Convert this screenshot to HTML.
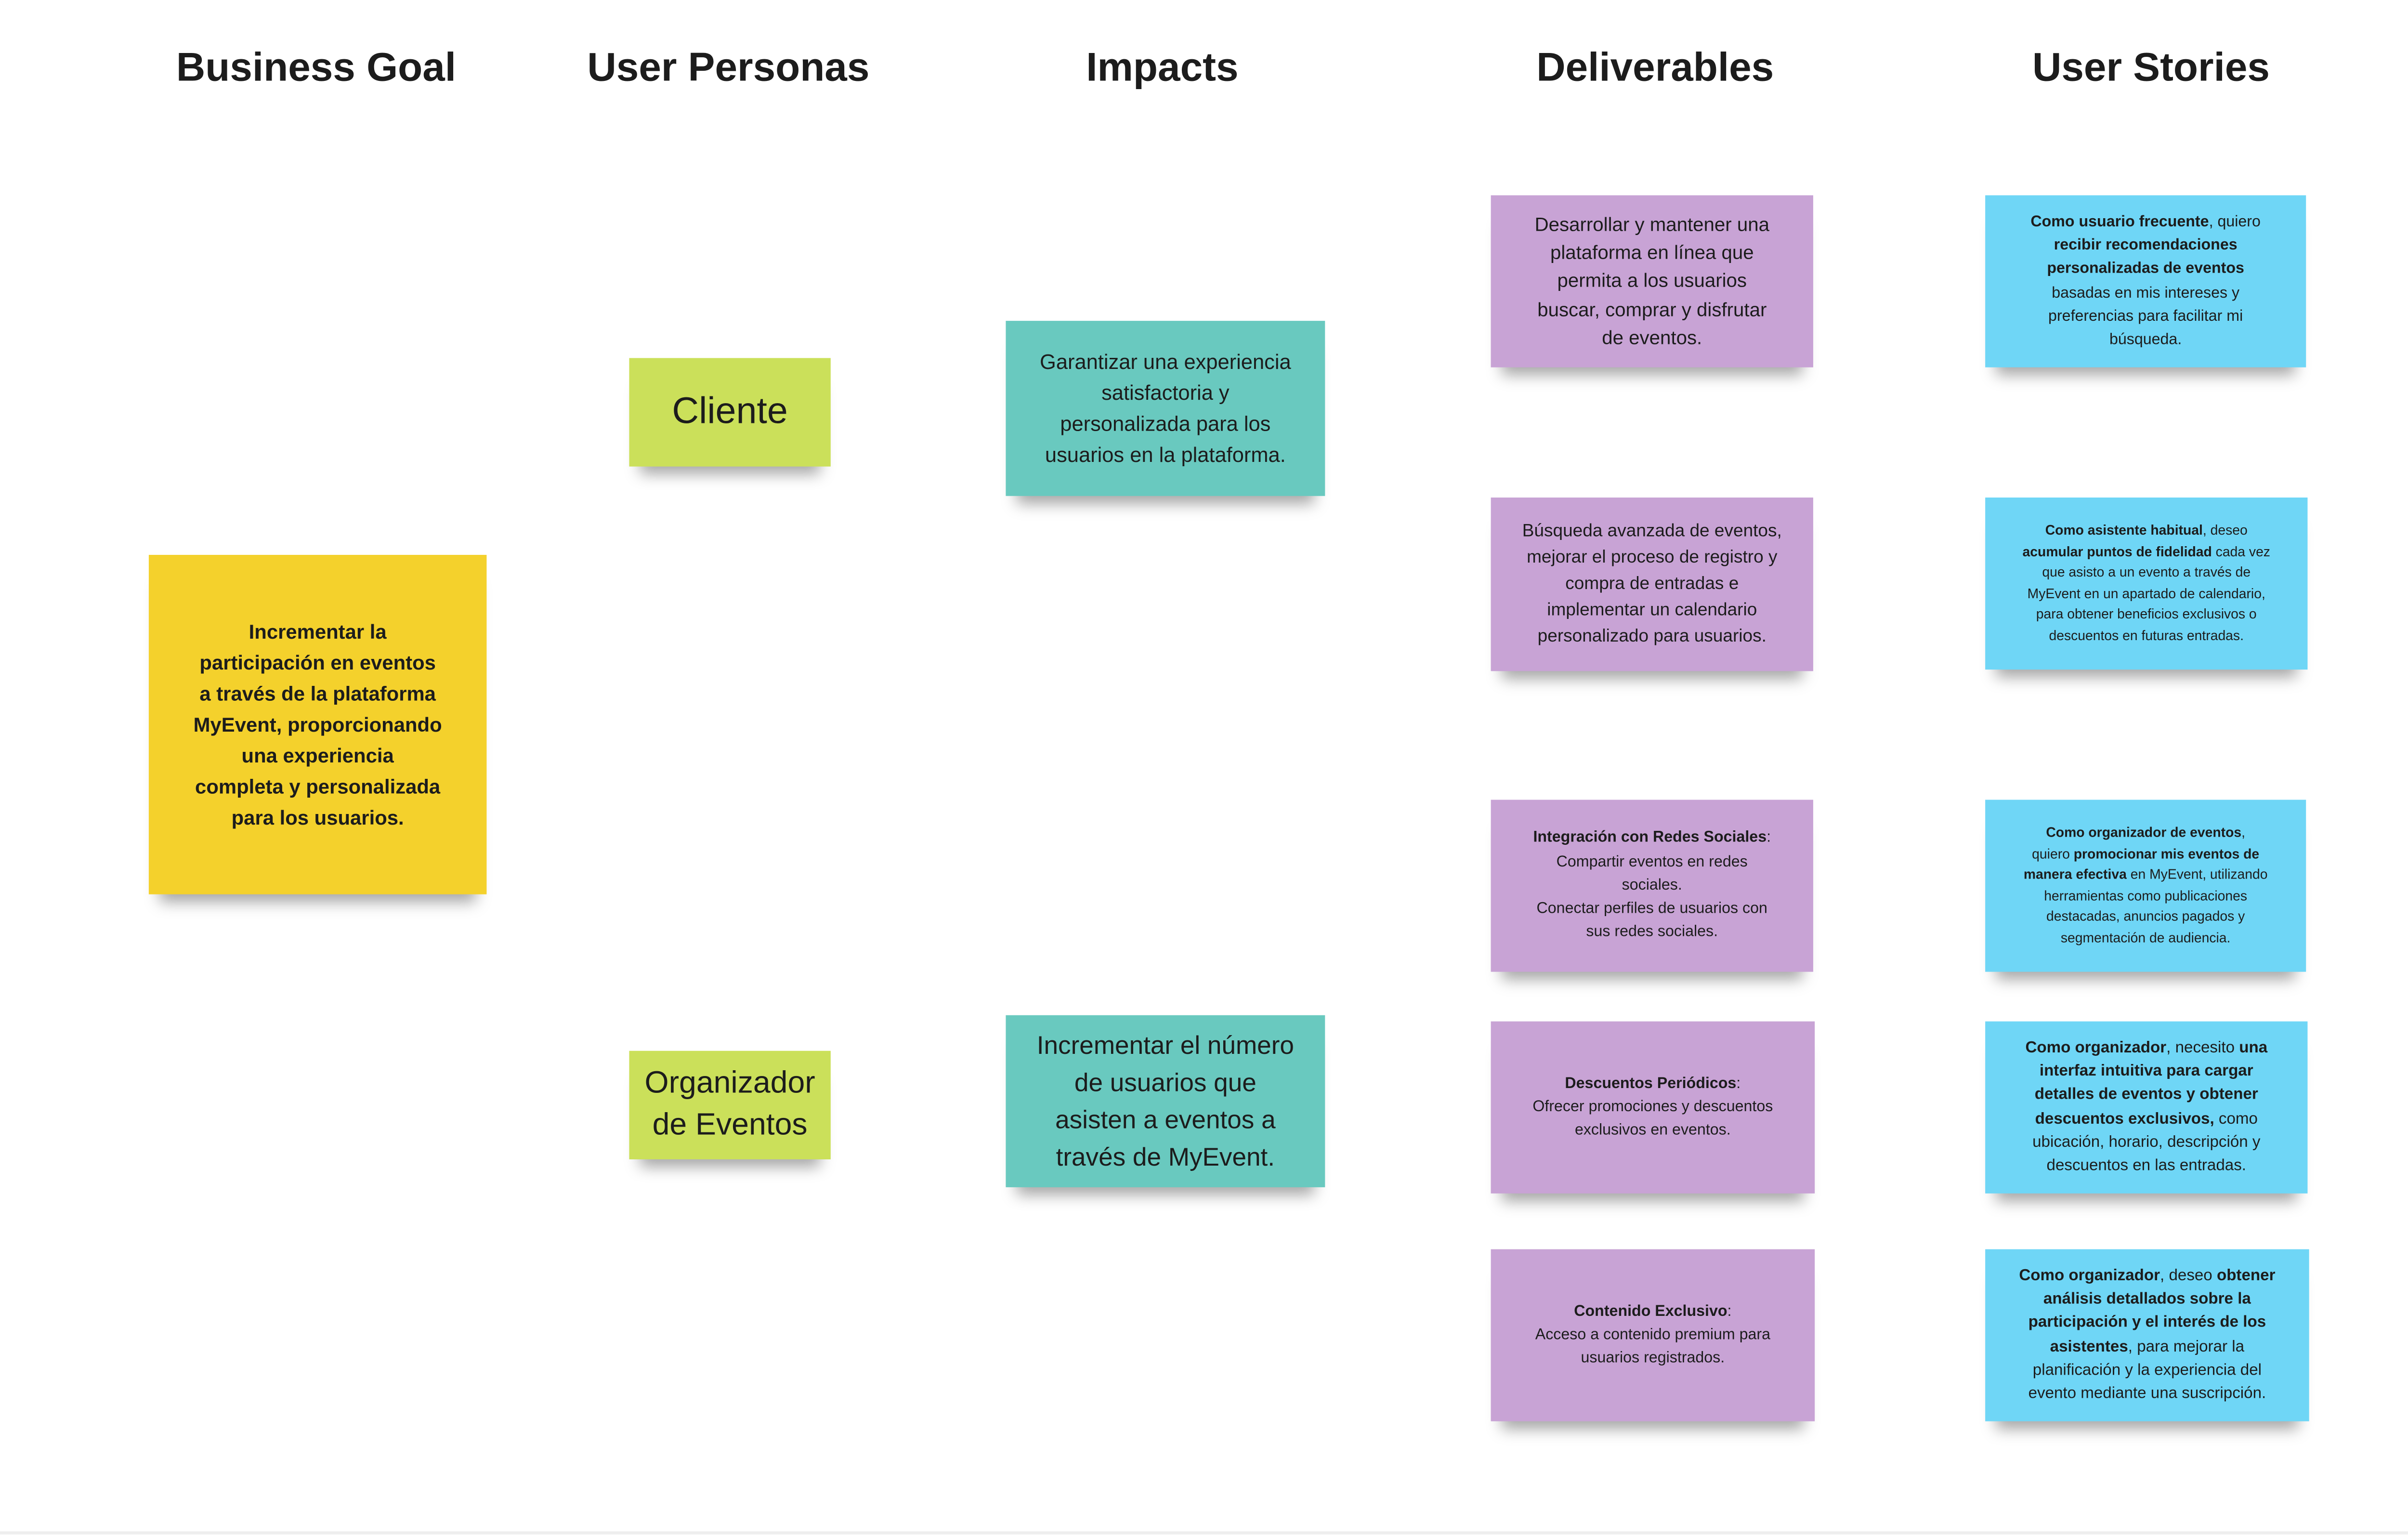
<!DOCTYPE html>
<html><head><meta charset="utf-8"><style>
html,body{margin:0;padding:0;background:#fff;}
body{width:5020px;height:3187px;overflow:hidden;position:relative;}
#w{position:absolute;left:0;top:0;width:1560px;height:991px;transform:scale(3.2179);transform-origin:0 0;font-family:"Liberation Sans",sans-serif;color:#1c1c1c;}
.t{position:absolute;top:28px;font-size:26px;font-weight:bold;text-align:center;width:300px;margin-left:-150px;}
.n{position:absolute;display:flex;align-items:center;justify-content:center;text-align:center;box-sizing:border-box;padding:0;white-space:nowrap;box-shadow:0 12px 9px -7px rgba(0,0,0,0.35);}
.y{background:#f4d12c;}
.g{background:#cbe05a;}
.c{background:#69c9bf;}
.p{background:#c8a3d5;}
.b{background:#6fd6f6;}
b{font-weight:bold;}
</style></head><body><div id="w">
<div class="t" style="left:204px">Business Goal</div>
<div class="t" style="left:470px">User Personas</div>
<div class="t" style="left:750px">Impacts</div>
<div class="t" style="left:1068px">Deliverables</div>
<div class="t" style="left:1388px">User Stories</div>

<div class="n y" style="left:96px;top:358px;width:218px;height:219px;font-size:13px;line-height:20px;font-weight:bold;"><div>Incrementar la<br>participación en eventos<br>a través de la plataforma<br>MyEvent, proporcionando<br>una experiencia<br>completa y personalizada<br>para los usuarios.</div></div>

<div class="n g" style="left:406px;top:231px;width:130px;height:70px;font-size:24px;">Cliente</div>
<div class="n g" style="left:406px;top:678px;width:130px;height:70px;font-size:20px;line-height:27px;"><div>Organizador<br>de Eventos</div></div>

<div class="n c" style="left:649px;top:207px;width:206px;height:113px;font-size:13.5px;line-height:20px;"><div>Garantizar una experiencia<br>satisfactoria y<br>personalizada para los<br>usuarios en la plataforma.</div></div>
<div class="n c" style="left:649px;top:655px;width:206px;height:111px;font-size:16.5px;line-height:24px;"><div>Incrementar el número<br>de usuarios que<br>asisten a eventos a<br>través de MyEvent.</div></div>

<div class="n p" style="left:962px;top:126px;width:208px;height:111px;font-size:12.5px;line-height:18.2px;"><div>Desarrollar y mantener una<br>plataforma en línea que<br>permita a los usuarios<br>buscar, comprar y disfrutar<br>de eventos.</div></div>
<div class="n p" style="left:962px;top:321px;width:208px;height:112px;font-size:11.5px;line-height:17px;"><div>Búsqueda avanzada de eventos,<br>mejorar el proceso de registro y<br>compra de entradas e<br>implementar un calendario<br>personalizado para usuarios.</div></div>
<div class="n p" style="left:962px;top:516px;width:208px;height:111px;font-size:10px;line-height:15.3px;"><div><b>Integración con Redes Sociales</b>:<br>Compartir eventos en redes<br>sociales.<br>Conectar perfiles de usuarios con<br>sus redes sociales.</div></div>
<div class="n p" style="left:962px;top:659px;width:209px;height:111px;font-size:10px;line-height:15.3px;"><div><b>Descuentos Periódicos</b>:<br>Ofrecer promociones y descuentos<br>exclusivos en eventos.</div></div>
<div class="n p" style="left:962px;top:806px;width:209px;height:111px;font-size:10px;line-height:15.3px;"><div><b>Contenido Exclusivo</b>:<br>Acceso a contenido premium para<br>usuarios registrados.</div></div>

<div class="n b" style="left:1281px;top:126px;width:207px;height:111px;font-size:10px;line-height:15.3px;"><div><b>Como usuario frecuente</b>, quiero<br><b>recibir recomendaciones</b><br><b>personalizadas de eventos</b><br>basadas en mis intereses y<br>preferencias para facilitar mi<br>búsqueda.</div></div>
<div class="n b" style="left:1281px;top:321px;width:208px;height:111px;font-size:8.8px;line-height:13.5px;"><div><b>Como asistente habitual</b>, deseo<br><b>acumular puntos de fidelidad</b> cada vez<br>que asisto a un evento a través de<br>MyEvent en un apartado de calendario,<br>para obtener beneficios exclusivos o<br>descuentos en futuras entradas.</div></div>
<div class="n b" style="left:1281px;top:516px;width:207px;height:111px;font-size:8.8px;line-height:13.5px;"><div><b>Como organizador de eventos</b>,<br>quiero <b>promocionar mis eventos de</b><br><b>manera efectiva</b> en MyEvent, utilizando<br>herramientas como publicaciones<br>destacadas, anuncios pagados y<br>segmentación de audiencia.</div></div>
<div class="n b" style="left:1281px;top:659px;width:208px;height:111px;font-size:10.3px;line-height:15.3px;"><div><b>Como organizador</b>, necesito <b>una</b><br><b>interfaz intuitiva para cargar</b><br><b>detalles de eventos y obtener</b><br><b>descuentos exclusivos,</b> como<br>ubicación, horario, descripción y<br>descuentos en las entradas.</div></div>
<div class="n b" style="left:1281px;top:806px;width:209px;height:111px;font-size:10.3px;line-height:15.3px;"><div><b>Como organizador</b>, deseo <b>obtener</b><br><b>análisis detallados sobre la</b><br><b>participación y el interés de los</b><br><b>asistentes</b>, para mejorar la<br>planificación y la experiencia del<br>evento mediante una suscripción.</div></div>

<div style="position:absolute;left:0;top:988px;width:1560px;height:2px;background:#eee"></div>
</div></body></html>
